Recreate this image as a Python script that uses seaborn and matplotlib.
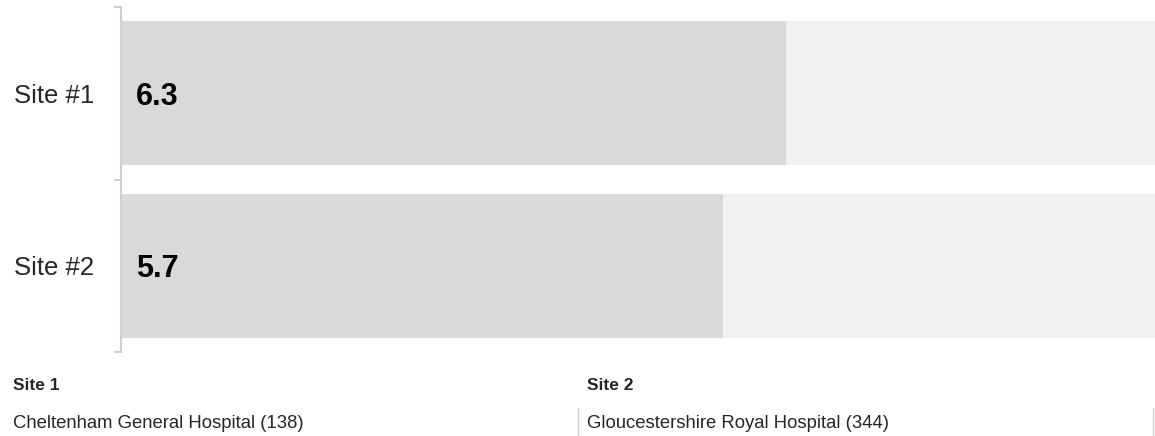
import pandas as pd
import numpy as np
import seaborn as sns
import matplotlib.pyplot as plt
from matplotlib.lines import Line2D

# values
sites = ["Site #1", "Site #2"]
scores = [6.3, 5.7]
full_scale = [10, 10]

footer_titles = ["Site 1", "Site 2"]
footer_names = ["Cheltenham General Hospital (138)", "Gloucestershire Royal Hospital (344)"]

df = pd.DataFrame({"site": sites, "score": scores, "full": full_scale})

sns.set_style("white")
plt.rcParams['font.family'] = ['Liberation Sans', 'DejaVu Sans']

fig = plt.figure(figsize=(11.55, 4.36), dpi=100)
ax = fig.add_axes([121 / 1155, 1 - 352 / 436, 1 - 121 / 1155, 345 / 436])

# background track then the score bar on top
sns.barplot(data=df, x="full", y="site", color="#f1f1f1", width=0.835,
            saturation=1, linewidth=0, ax=ax)
sns.barplot(data=df, x="score", y="site", color="#d9d9d9", width=0.835,
            saturation=1, linewidth=0, ax=ax)

ax.set_xlim(0, 9.79)
ax.set_ylim(1.5, -0.5)
ax.set_xlabel("")
ax.set_ylabel("")
ax.set_xticks([])

for s in ["top", "right", "bottom"]:
    ax.spines[s].set_visible(False)
ax.spines["left"].set_color("#d0d0d0")
ax.spines["left"].set_linewidth(1.5)

ax.set_yticks([0, 1])
ax.set_yticklabels(sites, fontsize=18.5)
ax.tick_params(axis="y", which="major", left=True, length=0, pad=19)
ax.set_yticks([-0.5, 0.5, 1.5], minor=True)
ax.tick_params(axis="y", which="minor", left=True, length=5, width=1.5, color="#d0d0d0")

for i, v in enumerate(scores):
    ax.annotate(f"{v}", xy=(0, i), xytext=(11, -2.5), textcoords="offset points",
                ha="left", va="center", fontsize=22, fontweight="bold", color="black")

# footer with site names
for i, (t, n) in enumerate(zip(footer_titles, footer_names)):
    x0 = 13 / 1155 + i * (574 / 1155)
    fig.text(x0, 1 - 385 / 436, t, fontsize=12.5, fontweight="bold", va="center", ha="left")
    fig.text(x0, 1 - 423 / 436, n, fontsize=13.3, va="center", ha="left")

for xp in [578, 1153]:
    fig.add_artist(Line2D([xp / 1155, xp / 1155], [0, 1 - 408 / 436],
                          color="#d0d0d0", linewidth=1))

fig.savefig("out.png", dpi=100)
